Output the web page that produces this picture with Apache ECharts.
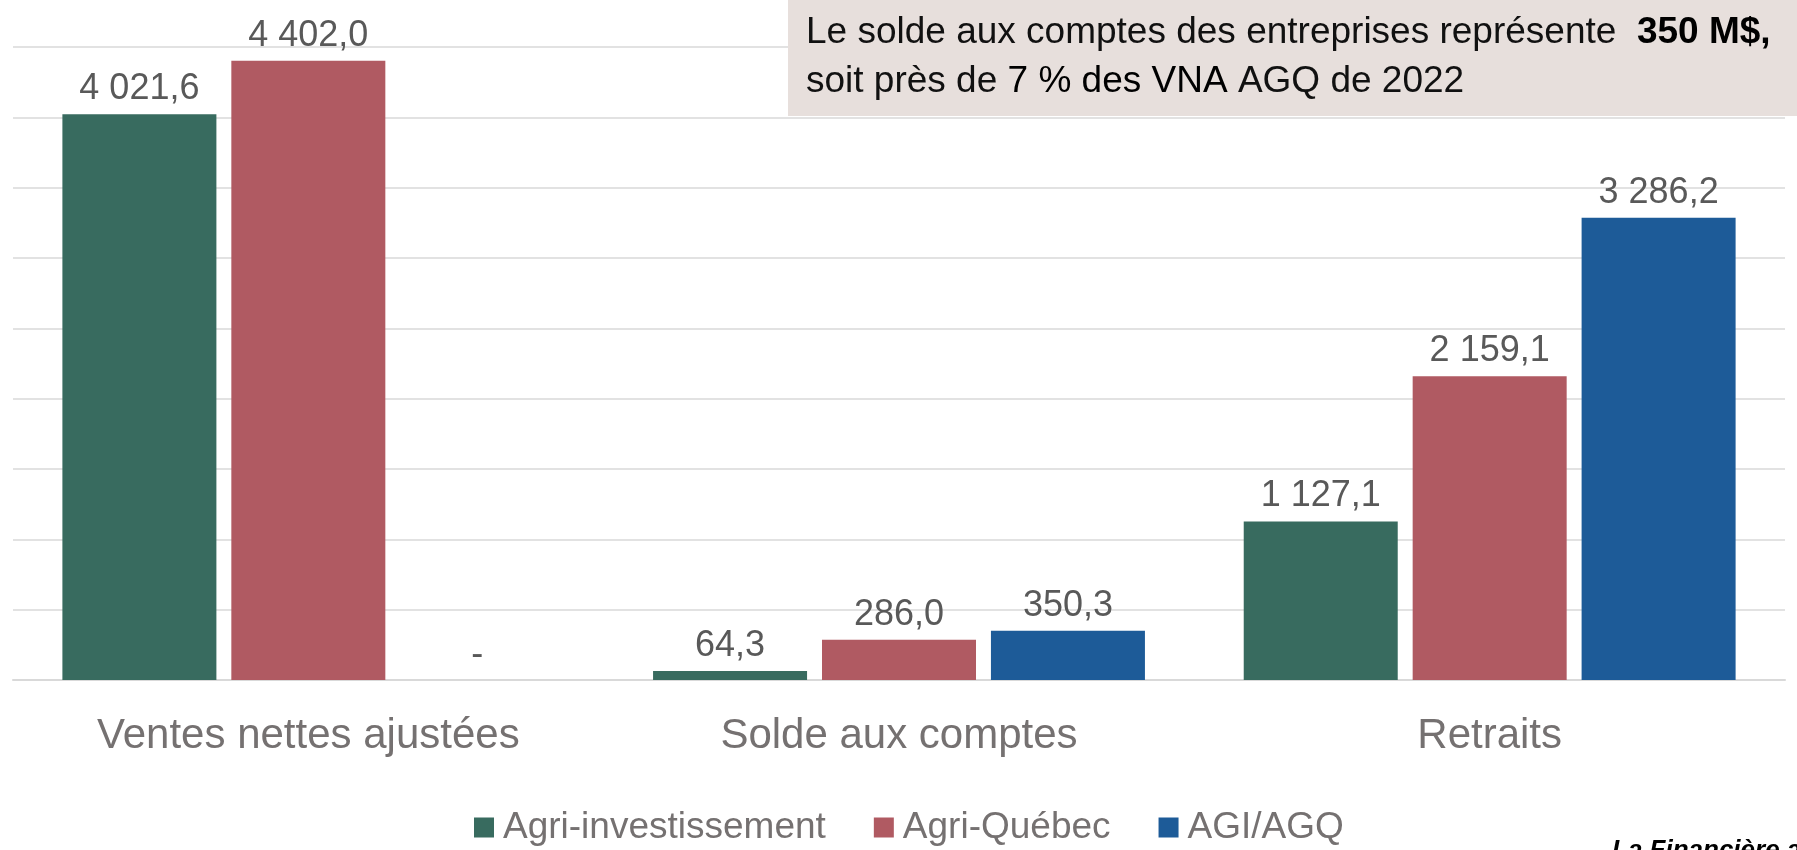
<!DOCTYPE html>
<html>
<head>
<meta charset="utf-8">
<script src="https://cdn.jsdelivr.net/npm/echarts@6/dist/echarts.min.js"></script>
<style>
html,body{margin:0;padding:0;background:#fff;}
#chart{width:1797px;height:850px;}
</style>
</head>
<body>
<div id="chart"></div>
<script>
const categories = ['Ventes nettes ajustées', 'Solde aux comptes', 'Retraits'];
const seriesNames = ['Agri-investissement', 'Agri-Québec', 'AGI/AGQ'];
const agriInvestissement = [4021.6, 64.3, 1127.1];
const agriQuebec = [4402.0, 286.0, 2159.1];
const agiAgq = [0, 350.3, 3286.2];
const yTicks = [0, 500, 1000, 1500, 2000, 2500, 3000, 3500, 4000, 4500];

const colors = ['#386b5f', '#b05a62', '#1d5b98'];
const FONT = 'Liberation Sans, Arial, sans-serif';

function fmt(v) {
  if (v === 0) return '-';
  const parts = v.toFixed(1).split('.');
  const intPart = parts[0].replace(/\B(?=(\d{3})+(?!\d))/g, ' ');
  return intPart + ',' + parts[1];
}

const chart = echarts.init(document.getElementById('chart'));
const labelCfg = {
  show: true,
  position: 'top',
  distance: 7,
  color: '#595959',
  fontFamily: FONT,
  fontSize: 36,
  formatter: p => fmt(p.value)
};
function mk(name, data, color) {
  return {
    name: name,
    type: 'bar',
    data: data,
    barWidth: 154,
    barGap: '9.7%',
    itemStyle: { color: color },
    label: labelCfg
  };
}
chart.setOption({
  animation: false,
  textStyle: { fontFamily: FONT },
  grid: { left: 13, right: 12, top: 47, bottom: 170, containLabel: false },
  legend: {
    data: seriesNames,
    bottom: -1,
    left: 469,
    icon: 'rect',
    itemWidth: 20,
    itemHeight: 20,
    itemGap: 48,
    textStyle: { color: '#757171', fontSize: 37, fontFamily: FONT, padding: [0, 0, 0, 4] }
  },
  xAxis: {
    type: 'category',
    data: categories,
    axisLine: { lineStyle: { color: '#d9d9d9', width: 2 } },
    axisTick: { show: false },
    axisLabel: { color: '#757171', fontSize: 42, margin: 35 }
  },
  yAxis: {
    type: 'value',
    min: yTicks[0],
    max: yTicks[yTicks.length - 1],
    interval: yTicks[1] - yTicks[0],
    axisLabel: { show: false },
    axisLine: { show: false },
    axisTick: { show: false },
    splitLine: { lineStyle: { color: '#d9d9d9', width: 1.5 } }
  },
  series: [
    mk(seriesNames[0], agriInvestissement, colors[0]),
    mk(seriesNames[1], agriQuebec, colors[1]),
    mk(seriesNames[2], agiAgq, colors[2])
  ],
  graphic: [
    {
      type: 'rect', z: 100,
      shape: { x: 788, y: 0, width: 1009, height: 116 },
      style: { fill: '#e7dfdc' }
    },
    {
      type: 'text', z: 101, x: 806, y: 33,
      style: {
        text: '{n|Le solde aux comptes des entreprises représente  }{b|350 M$,}',
        verticalAlign: 'middle',
        rich: {
          n: { fontSize: 37, fill: '#111', fontFamily: FONT },
          b: { fontSize: 37, fill: '#000', fontWeight: 'bold', fontFamily: FONT }
        }
      }
    },
    {
      type: 'text', z: 101, x: 806, y: 82,
      style: {
        text: '{n|soit près de }{b|7 % des VNA}{n| AGQ de 2022}',
        verticalAlign: 'middle',
        rich: {
          n: { fontSize: 37, fill: '#111', fontFamily: FONT },
          b: { fontSize: 37, fill: '#000', fontWeight: 500, fontFamily: FONT }
        }
      }
    },
    {
      type: 'text', z: 101, x: 1612, y: 838,
      style: {
        text: 'La Financière agricole',
        fontSize: 26, fontWeight: 'bold', fontStyle: 'italic', fill: '#000',
        fontFamily: FONT
      }
    }
  ]
});
</script>
</body>
</html>
